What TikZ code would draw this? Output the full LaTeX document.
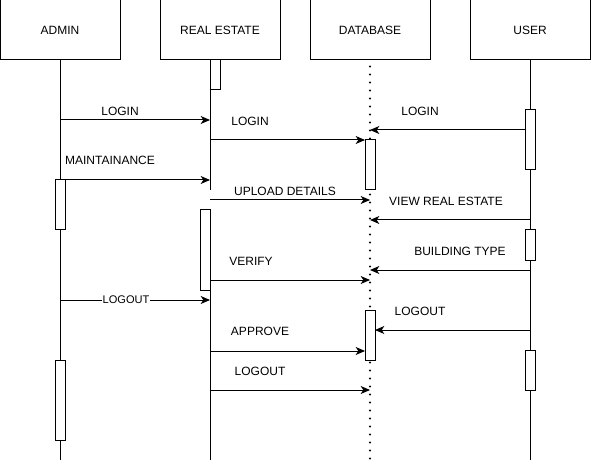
\documentclass[tikz,border=0pt]{standalone}
\usepackage{fontspec}
\setmainfont{Liberation Sans}
\usetikzlibrary{arrows.meta}
\begin{document}
\begin{tikzpicture}[x=0.75pt,y=-0.75pt,
  font=\fontsize{9}{10}\selectfont,
  every path/.style={line width=0.75pt},
  actor/.style={draw,rectangle,inner sep=0pt,minimum width=90pt,minimum height=45pt},
  act/.style={draw,fill=white,rectangle,inner sep=0pt,minimum width=7.5pt},
  msg/.style={-{Stealth[length=7pt,width=6pt,inset=2pt]}},
  lbl/.style={inner sep=1pt},
  dots/.style={line width=1.6pt,dash pattern=on 0pt off 6pt,line cap=round}]
\useasboundingbox (0,0) rectangle (591,466);
% actors
\node[actor] (admin) at (60,30) {ADMIN};
\node[actor] (re) at (220,30) {REAL ESTATE};
\node[actor] (db) at (370,30) {DATABASE};
\node[actor] (user) at (530,30) {USER};
% lifelines
\coordinate (adminEnd) at (60,460);
\coordinate (reA) at (210,190);
\coordinate (reB) at (210,210);
\coordinate (reEnd) at (210,460);
\coordinate (dbEnd) at (370,463);
\coordinate (userEnd) at (530,460);
\draw (admin.south) -- (adminEnd);
\draw (210,60) -- (reA);
\draw (reB) -- (reEnd);
\draw[dots] (db.south) ++(0,6) -- (dbEnd);
\draw (user.south) -- (userEnd);
% activations
\node[act,minimum height=22.5pt] (reAct1) at (215,75) {};
\node[act,minimum height=37.5pt] (adAct1) at (60,205) {};
\node[act,minimum height=60pt] (adAct2) at (60,400) {};
\node[act,minimum height=60pt] (reAct2) at (205,250) {};
\node[act,minimum height=37.5pt] (dbAct1) at (370,165) {};
\node[act,minimum height=37.5pt] (dbAct2) at (370,335) {};
\node[act,minimum height=45pt] (usAct1) at (530,140) {};
\node[act,minimum height=22.5pt] (usAct2) at (530,245) {};
\node[act,minimum height=30pt] (usAct3) at (530,370) {};
% message endpoints
\coordinate (m1s) at (60,120);  \coordinate (m1e) at (210,120);
\coordinate (m2s) at (210,140); \coordinate (m2e) at (365,140);
\coordinate (m3s) at (525,130); \coordinate (m3e) at (370,130);
\coordinate (m4s) at (65,180);  \coordinate (m4e) at (210,180);
\coordinate (m5s) at (210,200); \coordinate (m5e) at (370,200);
\coordinate (m6s) at (530,220); \coordinate (m6e) at (370,220);
\coordinate (m7s) at (530,270); \coordinate (m7e) at (370,270);
\coordinate (m8s) at (210,280); \coordinate (m8e) at (370,280);
\coordinate (m9s) at (60,300);  \coordinate (m9e) at (210,300);
\coordinate (m10s) at (530,330); \coordinate (m10e) at (375,330);
\coordinate (m11s) at (210,351); \coordinate (m11e) at (365,351);
\coordinate (m12s) at (210,390); \coordinate (m12e) at (370,390);
\draw[msg] (m1s) -- (m1e);
\draw[msg] (m2s) -- (m2e);
\draw[msg] (m3s) -- (m3e);
\draw[msg] (m4s) -- (m4e);
\draw[msg] (m5s) -- (m5e);
\draw[msg] (m6s) -- (m6e);
\draw[msg] (m7s) -- (m7e);
\draw[msg] (m8s) -- (m8e);
\draw[msg] (m9s) -- node[fill=white,inner sep=0.5pt,font=\fontsize{8.3}{9}\selectfont,pos=0.44] (l9) {LOGOUT} (m9e);
\draw[msg] (m10s) -- (m10e);
\draw[msg] (m11s) -- (m11e);
\draw[msg] (m12s) -- (m12e);
% labels
\node[lbl] (l1) at (120,111) {LOGIN};
\node[lbl] (l2) at (250,121) {LOGIN};
\node[lbl] (l3) at (420,111) {LOGIN};
\node[lbl] (l4) at (110,160) {MAINTAINANCE};
\node[lbl] (l5) at (285,191) {UPLOAD DETAILS};
\node[lbl] (l6) at (446,201) {VIEW REAL ESTATE};
\node[lbl] (l7) at (460,251) {BUILDING TYPE};
\node[lbl] (l8) at (251,261) {VERIFY};
\node[lbl] (l10) at (420,311) {LOGOUT};
\node[lbl] (l11) at (260,331) {APPROVE};
\node[lbl] (l12) at (260,371) {LOGOUT};
\end{tikzpicture}
\end{document}
